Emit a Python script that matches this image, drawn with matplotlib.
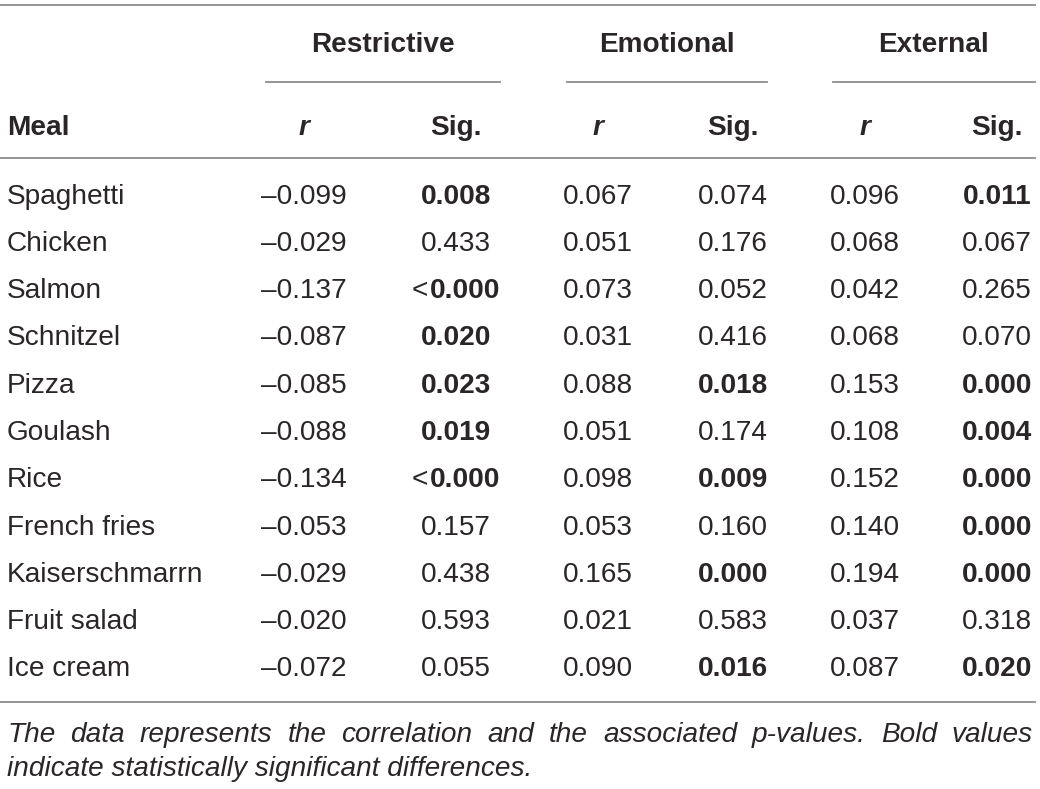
import matplotlib
matplotlib.use("Agg")
import matplotlib.pyplot as plt

plt.rcParams["font.family"] = ["Liberation Sans", "DejaVu Sans"]

meals = ["Spaghetti", "Chicken", "Salmon", "Schnitzel", "Pizza", "Goulash",
         "Rice", "French fries", "Kaiserschmarrn", "Fruit salad", "Ice cream"]
restrictive_r = [-0.099, -0.029, -0.137, -0.087, -0.085, -0.088,
                 -0.134, -0.053, -0.029, -0.020, -0.072]
restrictive_sig = ["0.008", "0.433", "<0.000", "0.020", "0.023", "0.019",
                   "<0.000", "0.157", "0.438", "0.593", "0.055"]
emotional_r = [0.067, 0.051, 0.073, 0.031, 0.088, 0.051,
               0.098, 0.053, 0.165, 0.021, 0.090]
emotional_sig = ["0.074", "0.176", "0.052", "0.416", "0.018", "0.174",
                 "0.009", "0.160", "0.000", "0.583", "0.016"]
external_r = [0.096, 0.068, 0.042, 0.068, 0.153, 0.108,
              0.152, 0.140, 0.194, 0.037, 0.087]
external_sig = ["0.011", "0.067", "0.265", "0.070", "0.000", "0.004",
                "0.000", "0.000", "0.000", "0.318", "0.020"]
groups = ["Restrictive", "Emotional", "External"]
caption = ["The data represents the correlation and the associated p-values. Bold values",
           "indicate statistically significant differences."]

TXT = "#2a2627"
LINE = "#8c8c8c"
FS = 20.2
DY = 2.5  # small shift so glyphs sit like the reference

fig = plt.figure(figsize=(10.4, 7.89), dpi=100)
ax = fig.add_axes([0, 0, 1, 1])
ax.set_xlim(0, 1040)
ax.set_ylim(789, 0)
ax.axis("off")
renderer = fig.canvas.get_renderer()


def width_px(t):
    return t.get_window_extent(renderer=renderer).width


# rules
for yy in (5, 158, 702):
    ax.plot([0, 1035], [yy, yy], color=LINE, lw=1.3)
spans = [(266, 500), (567, 767), (833, 1035)]
for (a, b) in spans:
    ax.plot([a, b], [82, 82], color=LINE, lw=1.3)

# headers
group_x = [383, 667, 934]
for g, gx in zip(groups, group_x):
    ax.text(gx, 42 + DY, g, ha="center", va="center", fontsize=FS, fontweight="bold", color=TXT)

r_x = [304, 598, 865]
sig_x = [456, 733, 997]
ax.text(7, 125 + DY, "Meal", ha="left", va="center", fontsize=FS, fontweight="bold", color=TXT)
for rx, sx in zip(r_x, sig_x):
    ax.text(rx, 125 + DY, "r", ha="center", va="center", fontsize=FS, fontweight="bold",
            fontstyle="italic", color=TXT)
    ax.text(sx, 125 + DY, "Sig.", ha="center", va="center", fontsize=FS, fontweight="bold",
            color=TXT)

row_y0 = 194 + DY
row_dy = 47.3


def fmt_r(v):
    s = f"{abs(v):.3f}"
    return ("\u2013" + s) if v < 0 else s


def draw_sig(x, y, s):
    bold = float(s.lstrip("<")) < 0.05
    if s.startswith("<"):
        num = ax.text(0, y, s[1:], ha="left", va="center", fontsize=FS,
                      fontweight="bold", color=TXT)
        lt = ax.text(0, y, "<", ha="left", va="center", fontsize=FS, color=TXT)
        wn, wl = width_px(num), width_px(lt)
        left = x - (wn + wl + 2) / 2
        lt.set_x(left)
        num.set_x(left + wl + 2)
    else:
        ax.text(x, y, s, ha="center", va="center", fontsize=FS,
                fontweight="bold" if bold else "normal", color=TXT)


cols = [(restrictive_r, restrictive_sig), (emotional_r, emotional_sig), (external_r, external_sig)]
for i, meal in enumerate(meals):
    y = row_y0 + i * row_dy
    ax.text(7, y, meal, ha="left", va="center", fontsize=FS, color=TXT)
    for (rv, sv), rx, sx in zip(cols, r_x, sig_x):
        ax.text(rx, y, fmt_r(rv[i]), ha="center", va="center", fontsize=FS, color=TXT)
        draw_sig(sx, y, sv[i])

# caption, first line justified
cap_y = [732 + DY, 767 + DY]
words = caption[0].split()
texts = [ax.text(0, cap_y[0], w, ha="left", va="center", fontsize=FS, fontstyle="italic",
                 color=TXT) for w in words]
widths = [width_px(t) for t in texts]
gap = (1033 - 7 - sum(widths)) / (len(words) - 1)
x = 7
for t, w in zip(texts, widths):
    t.set_x(x)
    x += w + gap
ax.text(7, cap_y[1], caption[1], ha="left", va="center", fontsize=FS, fontstyle="italic",
        color=TXT)

fig.savefig("out.png", dpi=100)
